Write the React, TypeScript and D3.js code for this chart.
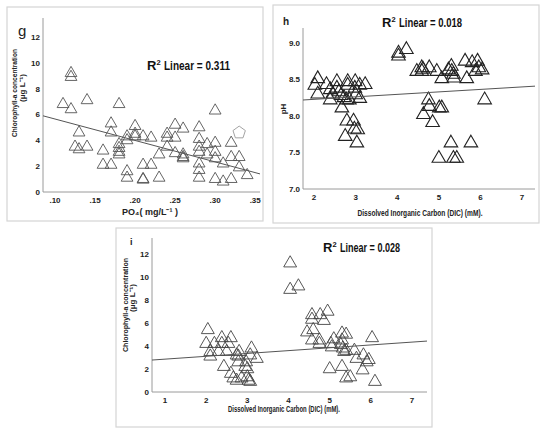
import React from "react";
import * as d3 from "d3";

// panel g: PO4 vs chlorophyll-a
const gPO4 = [
  0.11, 0.12, 0.12, 0.12, 0.13, 0.125, 0.13, 0.14, 0.14, 0.16, 0.16, 0.17, 0.17, 0.17,
  0.18, 0.18, 0.18, 0.18, 0.18, 0.19, 0.19, 0.19, 0.19, 0.2, 0.2, 0.2, 0.21, 0.21, 0.21,
  0.21, 0.22, 0.22, 0.23, 0.23, 0.24, 0.24, 0.24, 0.25, 0.25, 0.25, 0.26, 0.26, 0.26,
  0.26, 0.28, 0.28, 0.28, 0.28, 0.28, 0.28, 0.28, 0.29, 0.29, 0.3, 0.3, 0.3, 0.3, 0.3,
  0.31, 0.31, 0.32, 0.32, 0.32, 0.33, 0.33, 0.34,
];
const gChl = [
  6.8, 9.2, 8.9, 6.4, 4.6, 3.5, 3.3, 3.5, 7.1, 3.2, 2.1, 2.1, 5.3, 4.6,
  6.8, 3.7, 3.4, 3.1, 2.9, 1.6, 1.1, 4.3, 4.0, 5.1, 4.5, 4.3, 4.3, 2.1, 1.0,
  0.95, 4.2, 2.1, 2.9, 1.1, 4.5, 4.2, 3.5, 5.2, 4.2, 3.0, 4.9, 2.9, 2.7,
  2.6, 5.0, 4.1, 3.5, 3.1, 2.2, 1.7, 1.1, 3.7, 2.9, 6.3, 3.8, 3.1, 2.6, 1.0,
  2.2, 0.8, 3.8, 2.7, 1.0, 2.7, 1.9, 1.3,
];
const gOutlier = [0.33, 4.6];
const gFit = { intercept: 7.31, slope: -16.6 };
const gXTicks = [0.1, 0.15, 0.2, 0.25, 0.3, 0.35];
const gYTicks = [0, 2, 4, 6, 8, 10, 12];

// panel h: DIC vs pH
const hDIC = [
  2.09, 2.02, 2.09, 2.3, 2.39, 2.39, 2.45, 2.55, 2.55, 2.6, 2.65, 2.67, 2.72, 2.78, 2.81,
  2.81, 2.85, 2.79, 2.75, 2.95, 2.97, 3.03, 3.05, 2.99, 2.98, 3.0, 3.1, 3.1, 3.23,
  4.03, 4.03, 4.22, 4.47, 4.59, 4.59, 4.62, 4.77, 4.95, 5.07, 5.23, 5.31, 5.35, 5.36,
  5.3, 5.63, 5.67, 5.8, 5.88, 5.93, 5.96, 6.04, 6.1,
  4.75, 4.77, 4.63, 4.85, 5.01, 5.07, 5.0, 5.29, 5.35, 5.43, 5.77,
];
const hPH = [
  8.51, 8.42, 8.3, 8.43, 8.36, 8.22, 8.3, 8.47, 8.38, 8.33, 8.28, 8.11, 8.25, 8.22, 8.47,
  8.42, 8.22, 7.93, 7.72, 7.93, 7.82, 7.63, 7.81, 8.47, 8.38, 8.29, 8.42, 8.24, 8.43,
  8.86, 8.82, 8.91, 8.61, 8.66, 8.61, 8.64, 8.66, 8.61, 8.51, 8.63, 8.61, 8.57, 8.52,
  8.68, 8.75, 8.51, 8.73, 8.61, 8.75, 8.66, 8.63, 8.22,
  8.22, 8.13, 8.02, 7.91, 8.11, 8.11, 7.42, 7.63, 7.42, 7.42, 7.63,
];
const hFit = { intercept: 8.16, slope: 0.034 };
const hXTicks = [2, 3, 4, 5, 6, 7];
const hYTicks = [7.0, 7.5, 8.0, 8.5, 9.0];

// panel i: DIC vs chlorophyll-a
const iDIC = [
  2.04, 2.0, 2.1, 2.1, 2.2, 2.38, 2.38, 2.3, 2.43, 2.5, 2.54, 2.6, 2.6, 2.66, 2.74, 2.78,
  2.8, 2.78, 2.74, 2.86, 2.95, 3.0, 2.97, 3.03, 3.07, 3.0, 3.1, 3.07, 3.23,
  4.04, 4.04, 4.24, 4.45, 4.57, 4.57, 4.57, 4.6, 4.77, 4.75, 4.75, 4.86, 4.95, 5.03, 5.05,
  5.1, 5.0, 5.3, 5.3, 5.4, 5.27, 5.32, 5.35, 5.4, 5.3, 5.4, 5.5, 5.6, 5.65, 5.8, 5.82,
  5.95, 5.9, 6.03, 6.1,
];
const iChl = [
  5.4, 4.2, 3.5, 3.1, 4.2, 4.7, 4.2, 3.5, 2.2, 3.5, 4.2, 4.7, 1.6, 1.2, 3.2, 3.1,
  3.5, 2.6, 1.0, 1.2, 2.2, 2.0, 2.6, 1.0, 0.9, 1.3, 3.8, 3.2, 2.9,
  11.2, 8.9, 9.2, 5.2, 6.7, 6.3, 4.5, 5.4, 6.7, 4.5, 4.2, 6.2, 7.0, 4.2, 3.9,
  4.6, 2.0, 4.5, 5.1, 5.0, 4.1, 3.8, 3.5, 3.6, 2.2, 1.2, 1.3, 3.6, 2.9, 1.9, 3.2,
  2.8, 2.6, 4.7, 0.9,
];
const iFit = { intercept: 2.61, slope: 0.247 };
const iXTicks = [1, 2, 3, 4, 5, 6, 7];
const iYTicks = [0, 2, 4, 6, 8, 10, 12];

const FONT = "'Liberation Sans', Arial, sans-serif";

interface PanelProps {
  frame: [number, number, number, number];
  plot: { left: number; right: number; top: number; bottom: number };
  xDomain: [number, number];
  yDomain: [number, number];
  xs: number[];
  ys: number[];
  fit: { intercept: number; slope: number };
  xTicks: number[];
  yTicks: number[];
  xFmt: (d: number) => string;
  yFmt: (d: number) => string;
  symbolSize: number;
  markStroke: string;
  markWidth: number;
  children?: (x: d3.ScaleLinear<number, number>, y: d3.ScaleLinear<number, number>) => React.ReactNode;
}

const Panel: React.FC<PanelProps> = (p) => {
  const x = d3.scaleLinear().domain(p.xDomain).range([p.plot.left, p.plot.right]);
  const y = d3.scaleLinear().domain(p.yDomain).range([p.plot.bottom, p.plot.top]);
  const tri = d3.symbol().type(d3.symbolTriangle).size(p.symbolSize)()!;
  const [x0, x1] = p.xDomain;
  return (
    <g>
      <rect x={p.frame[0]} y={p.frame[1]} width={p.frame[2]} height={p.frame[3]}
        fill="#fff" stroke="#d4d4d4" strokeWidth={1.2} />
      <line x1={p.plot.left} x2={p.plot.left} y1={p.plot.top} y2={p.plot.bottom} stroke="#9a9a9a" />
      <line x1={p.plot.left} x2={p.plot.right} y1={p.plot.bottom} y2={p.plot.bottom} stroke="#9a9a9a" />
      {p.yTicks.map((t) => (
        <text key={"y" + t} x={p.plot.left - 3} y={y(t) + 3} textAnchor="end"
          fontFamily={FONT} fontWeight="bold" fontSize={8} fill="#222">
          {p.yFmt(t)}
        </text>
      ))}
      {p.xTicks.map((t) => (
        <text key={"x" + t} x={x(t)} y={p.plot.bottom + 11} textAnchor="middle"
          fontFamily={FONT} fontWeight="bold" fontSize={8} fill="#222">
          {p.xFmt(t)}
        </text>
      ))}
      {p.xs.map((v, i) => (
        <path key={i} d={tri} transform={`translate(${x(v)},${y(p.ys[i])})`}
          fill="none" stroke={p.markStroke} strokeWidth={p.markWidth} />
      ))}
      <line x1={x(x0)} y1={y(p.fit.intercept + p.fit.slope * x0)}
        x2={x(x1)} y2={y(p.fit.intercept + p.fit.slope * x1)}
        stroke="#555" strokeWidth={1} />
      {p.children && p.children(x, y)}
    </g>
  );
};

// "R² Linear = ..." as three pieces so the superscript sits clear of the rest
const R2: React.FC<{ x: number; y: number; len: number; value: string }> = ({ x, y, len, value }) => (
  <g fontFamily={FONT} fontWeight="bold" fill="#111">
    <text x={x} y={y} fontSize={13}>R</text>
    <text x={x + 9.5} y={y - 5} fontSize={7.5}>2</text>
    <text x={x + 17} y={y} fontSize={13} textLength={len - 17} lengthAdjust="spacingAndGlyphs">
      {`Linear = ${value}`}
    </text>
  </g>
);

const App: React.FC = () => {
  const dec2 = (d: number) => d3.format(".2f")(d).replace(/^0/, "");
  const int = (d: number) => d3.format("d")(d);
  const one = (d: number) => d3.format(".1f")(d);
  return (
    <svg width={550} height={434} style={{ position: "absolute", left: 0, top: 0 }}>
      <rect width={550} height={434} fill="#fff" />

      <Panel frame={[7, 7, 256, 214]} plot={{ left: 43, right: 260, top: 18, bottom: 192 }}
        xDomain={[0.085, 0.356]} yDomain={[0, 13.47]} xs={gPO4} ys={gChl} fit={gFit}
        xTicks={gXTicks} yTicks={gYTicks} xFmt={dec2} yFmt={int}
        symbolSize={60} markStroke="#555" markWidth={0.9}>
        {(x, y) => {
          const cx = x(gOutlier[0]), cy = y(gOutlier[1]);
          const pts = d3.range(5).map((k) => {
            const a = -Math.PI / 2 + (k * 2 * Math.PI) / 5;
            return [cx + 6.5 * Math.cos(a), cy + 6.5 * Math.sin(a)] as [number, number];
          });
          return <path d={d3.line()(pts)! + "Z"} fill="none" stroke="#999" strokeWidth={0.9} />;
        }}
      </Panel>
      <text x={18} y={36} fontFamily={FONT} fontSize={15} fill="#222">g</text>
      <R2 x={147} y={70} len={83} value="0.311" />
      <text transform="translate(17,93) rotate(-90)" textAnchor="middle" fontFamily={FONT}
        fontWeight="bold" fontSize={8} fill="#222" textLength={88} lengthAdjust="spacingAndGlyphs">
        Chlorophyll-a concentration
      </text>
      <text transform="translate(24.5,88) rotate(-90)" textAnchor="middle" fontFamily={FONT}
        fontWeight="bold" fontSize={8} fill="#222">(μg L⁻¹)</text>
      <text x={150} y={215} textAnchor="middle" fontFamily={FONT} fontWeight="bold"
        fontSize={9} fill="#222">PO₄( mg/L⁻¹ )</text>

      <Panel frame={[273, 5, 266, 218]} plot={{ left: 303, right: 535, top: 28, bottom: 189 }}
        xDomain={[1.736, 7.31]} yDomain={[7.0, 9.205]} xs={hDIC} ys={hPH} fit={hFit}
        xTicks={hXTicks} yTicks={hYTicks} xFmt={int} yFmt={one}
        symbolSize={80} markStroke="#222" markWidth={1.1} />
      <text x={283} y={25} fontFamily={FONT} fontWeight="bold" fontSize={10} fill="#222">h</text>
      <R2 x={382} y={27} len={80} value="0.018" />
      <text transform="translate(286,109) rotate(-90)" textAnchor="middle" fontFamily={FONT}
        fontWeight="bold" fontSize={8} fill="#222">pH</text>
      <text x={420} y={216} textAnchor="middle" fontFamily={FONT} fontWeight="bold"
        fontSize={8.5} fill="#222" textLength={125} lengthAdjust="spacingAndGlyphs">
        Dissolved Inorganic Carbon (DIC) (mM).
      </text>

      <Panel frame={[116, 228, 316, 199]} plot={{ left: 152, right: 427, top: 238, bottom: 392 }}
        xDomain={[0.684, 7.364]} yDomain={[0, 13.39]} xs={iDIC} ys={iChl} fit={iFit}
        xTicks={iXTicks} yTicks={iYTicks} xFmt={int} yFmt={int}
        symbolSize={72} markStroke="#444" markWidth={0.9} />
      <text x={130} y={245} fontFamily={FONT} fontWeight="bold" fontSize={9} fill="#222">i</text>
      <R2 x={323} y={252} len={77} value="0.028" />
      <text transform="translate(128,305) rotate(-90)" textAnchor="middle" fontFamily={FONT}
        fontWeight="bold" fontSize={8} fill="#222" textLength={94} lengthAdjust="spacingAndGlyphs">
        Chlorophyll-a concentration
      </text>
      <text transform="translate(135,298) rotate(-90)" textAnchor="middle" fontFamily={FONT}
        fontWeight="bold" fontSize={8} fill="#222">(μg L⁻¹)</text>
      <text x={284} y={412} textAnchor="middle" fontFamily={FONT} fontWeight="bold"
        fontSize={8.5} fill="#222" textLength={112} lengthAdjust="spacingAndGlyphs">
        Dissolved Inorganic Carbon (DIC) (mM).
      </text>
    </svg>
  );
};

export default App;
